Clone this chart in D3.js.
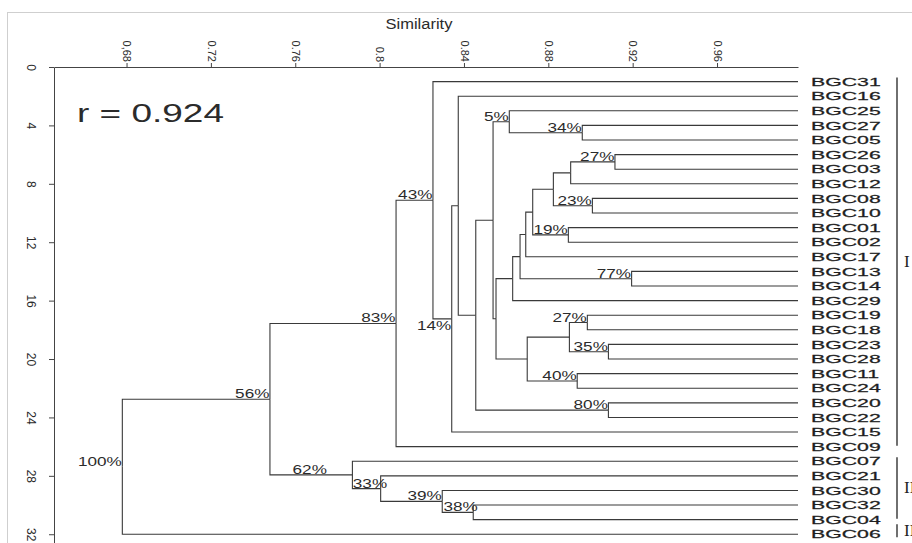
<!DOCTYPE html>
<html>
<head>
<meta charset="utf-8">
<script src="https://d3js.org/d3.v7.min.js"></script>
<style>
  body { margin: 0; background: #fff; }
  svg { display: block; }
</style>
</head>
<body>
<svg id="chart" width="912" height="543"></svg>
<script>
// leaves, top to bottom
const leaves = ["BGC31","BGC16","BGC25","BGC27","BGC05","BGC26","BGC03","BGC12",
  "BGC08","BGC10","BGC01","BGC02","BGC17","BGC13","BGC14","BGC29","BGC19","BGC18",
  "BGC23","BGC28","BGC11","BGC24","BGC20","BGC22","BGC15","BGC09","BGC07","BGC21",
  "BGC30","BGC32","BGC04","BGC06"];

// merges: [node, upper child, lower child, similarity, bootstrap]
const merges = [
  ["n100", "n56",   "BGC06", 0.678,  "100%"],
  ["n56",  "n83",   "n62",   0.748,  "56%"],
  ["n83",  "n43",   "BGC09", 0.8078, "83%"],
  ["n43",  "BGC31", "n14",   0.8253, "43%"],
  ["n14",  "c1",    "BGC15", 0.8342, "14%"],
  ["c1",   "BGC16", "c2",    0.8373, ""],
  ["c2",   "c3",    "n80",   0.8456, ""],
  ["n80",  "BGC20", "BGC22", 0.9085, "80%"],
  ["c3",   "n5",    "c4",    0.8538, ""],
  ["n5",   "BGC25", "n34",   0.8615, "5%"],
  ["n34",  "BGC27", "BGC05", 0.8961, "34%"],
  ["c4",   "c5",    "c10",   0.8552, ""],
  ["c5",   "c6",    "BGC29", 0.8631, ""],
  ["c6",   "c7",    "n77",   0.8666, ""],
  ["n77",  "BGC13", "BGC14", 0.9195, "77%"],
  ["c7",   "c8",    "BGC17", 0.8693, ""],
  ["c8",   "c9",    "n19",   0.8726, ""],
  ["n19",  "BGC01", "BGC02", 0.8895, "19%"],
  ["c9",   "c11",   "n23",   0.8824, ""],
  ["c11",  "n27a",  "BGC12", 0.8906, ""],
  ["n27a", "BGC26", "BGC03", 0.9116, "27%"],
  ["n23",  "BGC08", "BGC10", 0.9009, "23%"],
  ["c10",  "c12",   "n40",   0.8700, ""],
  ["c12",  "n27b",  "n35",   0.8900, ""],
  ["n27b", "BGC19", "BGC18", 0.8985, "27%"],
  ["n35",  "BGC23", "BGC28", 0.9085, "35%"],
  ["n40",  "BGC11", "BGC24", 0.8937, "40%"],
  ["n62",  "BGC07", "n33",   0.7871, "62%"],
  ["n33",  "BGC21", "n39",   0.8005, "33%"],
  ["n39",  "BGC30", "n38",   0.8297, "39%"],
  ["n38",  "BGC32", "BGC04", 0.8444, "38%"]
];

const xTickValues = [0.68, 0.72, 0.76, 0.8, 0.84, 0.88, 0.92, 0.96];
const xTickLabels = ["0,68", "0.72", "0.76", "0.8", "0.84", "0.88", "0.92", "0.96"];
const yTickValues = [0, 4, 8, 12, 16, 20, 24, 28, 32];

// groups: [label, first leaf, last leaf]
const groups = [["I", "BGC31", "BGC09"], ["II", "BGC07", "BGC04"], ["III", "BGC06", "BGC06"]];
const rValue = "r = 0.924";

const svg = d3.select("#chart");
const FONT = "'Liberation Sans', Arial, sans-serif";
const INK = "#2b2b2b";

const x = d3.scaleLinear().domain([0.6456, 0.9984]).range([54, 798]);
const y = d3.scaleLinear().domain([0, 32.6]).range([67, 543]);

// frame
svg.append("rect").attr("x", 7.5).attr("y", 12.5).attr("width", 940).attr("height", 600)
  .attr("fill", "none").attr("stroke", "#cfcfcf");

// build tree
const byId = new Map(merges.map(m => [m[0], m]));
function build(id) {
  const m = byId.get(id);
  if (!m) return {name: id, sim: x.domain()[1]};
  return {name: id, sim: m[3], support: m[4], children: [build(m[1]), build(m[2])]};
}
const root = d3.hierarchy(build("n100"));
root.eachAfter(n => {
  n.px = x(n.data.sim);
  if (n.children) n.py = (n.children[0].py + n.children[n.children.length - 1].py) / 2;
  else n.py = y(leaves.indexOf(n.data.name) + 1);
});

// axes
const xAxisG = svg.append("g").attr("transform", "translate(0,67)")
  .call(d3.axisTop(x).tickValues(xTickValues).tickFormat((d, i) => xTickLabels[i])
    .tickSize(4).tickSizeOuter(0));
xAxisG.selectAll("text")
  .attr("x", 0).attr("y", 0).attr("dy", "0.35em")
  .attr("text-anchor", "end")
  .attr("transform", "translate(0,-5) rotate(90)")
  .attr("font-size", 11).attr("font-family", FONT).attr("fill", INK);

const yAxisG = svg.append("g").attr("transform", "translate(54,0)")
  .call(d3.axisLeft(y).tickValues(yTickValues).tickSize(5).tickSizeOuter(0));
yAxisG.selectAll("text")
  .attr("x", 0).attr("y", 0).attr("dy", "0.35em")
  .attr("text-anchor", "middle")
  .attr("transform", "translate(-23,0) rotate(90)")
  .attr("font-size", 12).attr("font-family", FONT).attr("fill", INK);

svg.selectAll(".domain, .tick line").attr("stroke", "#444").attr("stroke-width", 1);

svg.append("text").attr("text-anchor", "middle")
  .attr("transform", "translate(419,29) scale(1.1,1)")
  .attr("font-family", FONT).attr("font-size", 15).attr("fill", INK)
  .text("Similarity");

svg.append("text")
  .attr("transform", "translate(77,122) scale(1.45,1)")
  .attr("font-family", FONT).attr("font-size", 25.5).attr("fill", INK)
  .text(rValue);

// branches
svg.append("g").selectAll("path")
  .data(root.links())
  .join("path")
  .attr("d", l => `M${l.source.px},${l.source.py}V${l.target.py}H${l.target.px}`)
  .attr("fill", "none").attr("stroke", "#3a3a3a").attr("stroke-width", 1.1);

// bootstrap labels
const nudge = {n62: [-25, 0], n33: [7, 0], n38: [5, 0], n14: [0, 12]};
svg.append("g").selectAll("text")
  .data(root.descendants().filter(n => n.data.support))
  .join("text")
  .attr("text-anchor", "end")
  .attr("transform", n => {
    const d = nudge[n.data.name] || [0, 0];
    return `translate(${n.px - 0.5 + d[0]},${n.py - 1 + d[1]}) scale(1.32,1)`;
  })
  .attr("font-family", FONT).attr("font-size", 13).attr("fill", INK)
  .text(n => n.data.support);

// leaf labels
svg.append("g").selectAll("text")
  .data(root.leaves())
  .join("text")
  .attr("transform", n => `translate(811,${n.py}) scale(1.85,1)`)
  .attr("dy", "0.36em")
  .attr("font-family", FONT).attr("font-size", 11.5).attr("fill", "#1e1e1e")
  .attr("stroke", "#1e1e1e").attr("stroke-width", 0.25)
  .text(n => n.data.name);

// group brackets
const gg = svg.append("g");
groups.forEach(([lab, a, b]) => {
  const ya = y(leaves.indexOf(a) + 1), yb = y(leaves.indexOf(b) + 1);
  const y0 = a === b ? ya - 10 : ya - 4;
  const y1 = a === b ? yb + 3 : yb - 1;
  gg.append("line").attr("x1", 897).attr("x2", 897).attr("y1", y0).attr("y2", y1)
    .attr("stroke", "#222").attr("stroke-width", 1.3);
  gg.append("text").attr("x", 904).attr("y", (y0 + y1) / 2).attr("dy", "0.3em")
    .attr("font-family", "'Liberation Serif', 'Times New Roman', serif")
    .attr("font-size", 17).attr("fill", "#222").text(lab);
});
</script>
</body>
</html>
